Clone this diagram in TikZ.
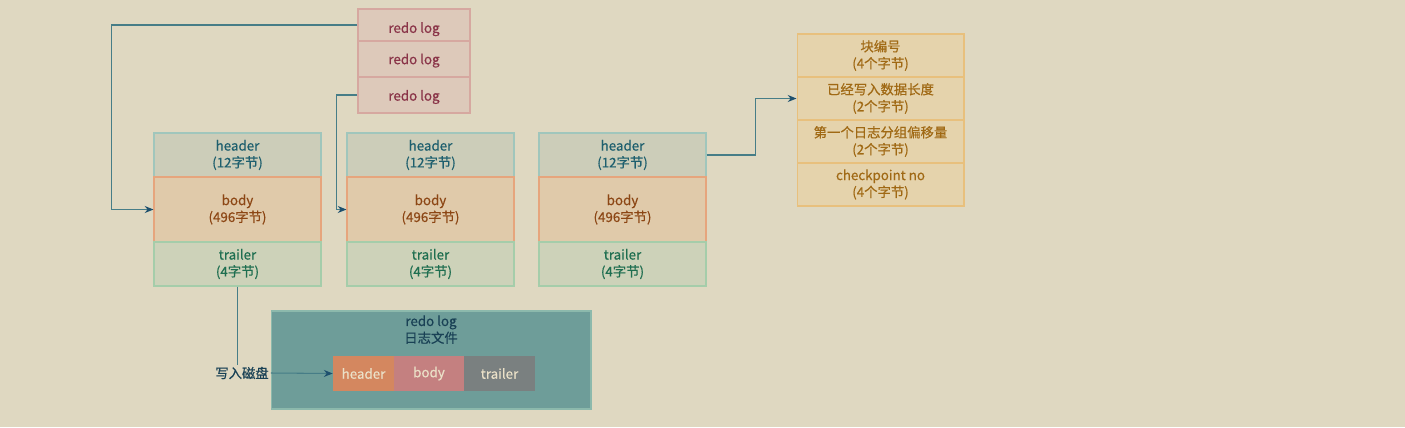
\documentclass[tikz,border=0pt]{standalone}
\usepackage{fontspec}
\setmainfont{Noto Sans CJK SC}[FakeBold=0.5]
\usetikzlibrary{arrows.meta}

\definecolor{bgcol}{RGB}{223,216,193}
\definecolor{logfill}{RGB}{221,201,186}
\definecolor{logdraw}{RGB}{214,168,160}
\definecolor{logtext}{RGB}{138,52,72}
\definecolor{hdfill}{RGB}{204,205,185}
\definecolor{hddraw}{RGB}{160,198,188}
\definecolor{hdtext}{RGB}{30,95,110}
\definecolor{bdfill}{RGB}{224,202,170}
\definecolor{bddraw}{RGB}{230,165,125}
\definecolor{bdtext}{RGB}{140,70,20}
\definecolor{trfill}{RGB}{205,210,185}
\definecolor{trdraw}{RGB}{165,205,170}
\definecolor{trtext}{RGB}{30,110,80}
\definecolor{tbfill}{RGB}{229,211,172}
\definecolor{tbdraw}{RGB}{232,192,125}
\definecolor{tbtext}{RGB}{160,105,20}
\definecolor{filefill}{RGB}{110,157,153}
\definecolor{filedraw}{RGB}{140,185,172}
\definecolor{filetext}{RGB}{25,65,85}
\definecolor{connline}{RGB}{70,125,135}
\definecolor{arrowcol}{RGB}{30,80,110}

\begin{document}
\begin{tikzpicture}[x=0.02cm, y=-0.02cm,
  every node/.style={font=\fontsize{7.6}{9.6}\selectfont, align=center, inner sep=0pt},
  logbox/.style={draw=logdraw, fill=logfill, text=logtext, line width=0.6pt,
                 minimum width=2.24cm, text depth=1.6pt},
  hdbox/.style={draw=hddraw, fill=hdfill, text=hdtext, line width=0.6pt,
                minimum width=3.34cm, minimum height=0.88cm},
  bdbox/.style={draw=bddraw, fill=bdfill, text=bdtext, line width=0.6pt,
                minimum width=3.34cm, minimum height=1.3cm},
  trbox/.style={draw=trdraw, fill=trfill, text=trtext, line width=0.6pt,
                minimum width=3.34cm, minimum height=0.88cm},
  tbbox/.style={draw=tbdraw, fill=tbfill, text=tbtext, line width=0.6pt,
                minimum width=3.34cm, minimum height=0.86cm},
  partbox/.style={text={rgb,255:red,235;green,225;blue,200}, minimum height=0.7cm},
  conn/.style={draw=connline, line width=0.6pt,
               -{Stealth[length=5pt, width=4pt, color=arrowcol]}},
]
  % Background
  \useasboundingbox[fill=bgcol] (0,0) rectangle (1405,427);

  % Redo logs
  \node[logbox, minimum height=0.64cm, text height=10.5pt] (r1) at (414,25) {redo log};
  \node[logbox, minimum height=0.72cm, text height=7.5pt] (r2) at (414,59) {redo log};
  \node[logbox, minimum height=0.72cm, text height=8pt] (r3) at (414,95) {redo log};

  % Blocks
  \foreach \i/\x in {1/237.5, 2/430.5, 3/622.5} {
    \node[hdbox] (h\i) at (\x,155) {header\\(12字节)};
    \node[bdbox] (b\i) at (\x,209.5) {body\\(496字节)};
    \node[trbox] (t\i) at (\x,264) {trailer\\(4字节)};
  }

  % Header fields
  \node[tbbox] (c1) at (880.5,55.5) {块编号\\(4个字节)};
  \node[tbbox] (c2) at (880.5,98.5) {已经写入数据长度\\(2个字节)};
  \node[tbbox] (c3) at (880.5,141.5) {第一个日志分组偏移量\\(2个字节)};
  \node[tbbox] (c4) at (880.5,184.5) {checkpoint no\\(4个字节)};

  % Log file
  \node[draw=filedraw, fill=filefill, line width=0.6pt, minimum width=6.4cm,
        minimum height=1.96cm] (file) at (431,360) {};
  \node[text=filetext, anchor=north] (ftitle) at (431,315) {redo log\\日志文件};
  \node[partbox, fill={rgb,255:red,212;green,135;blue,95}, minimum width=1.22cm]
    (fh) at (363.5,373.5) {header};
  \node[partbox, fill={rgb,255:red,196;green,128;blue,128}, minimum width=1.4cm]
    (fb) at (429,373.5) {body};
  \node[partbox, fill={rgb,255:red,122;green,128;blue,128}, minimum width=1.42cm]
    (ft) at (499.5,373.5) {trailer};
  \node[text=filetext, inner sep=1pt] (disk) at (242,373) {写入磁盘};

  % Arrows
  \draw[conn] (r1.west) -- ++(-246,0) |- (b1.west);
  \draw[conn] (r3.west) -- ++(-21,0) |- (b2.west);
  \draw[conn] (h3.east) -- ++(49,0) |- (c2.west);
  \draw[draw=connline, line width=0.6pt] (t1.south) -- (t1.south |- disk.north);
  \draw[conn] (disk.east) -- (fh.west);
\end{tikzpicture}
\end{document}
